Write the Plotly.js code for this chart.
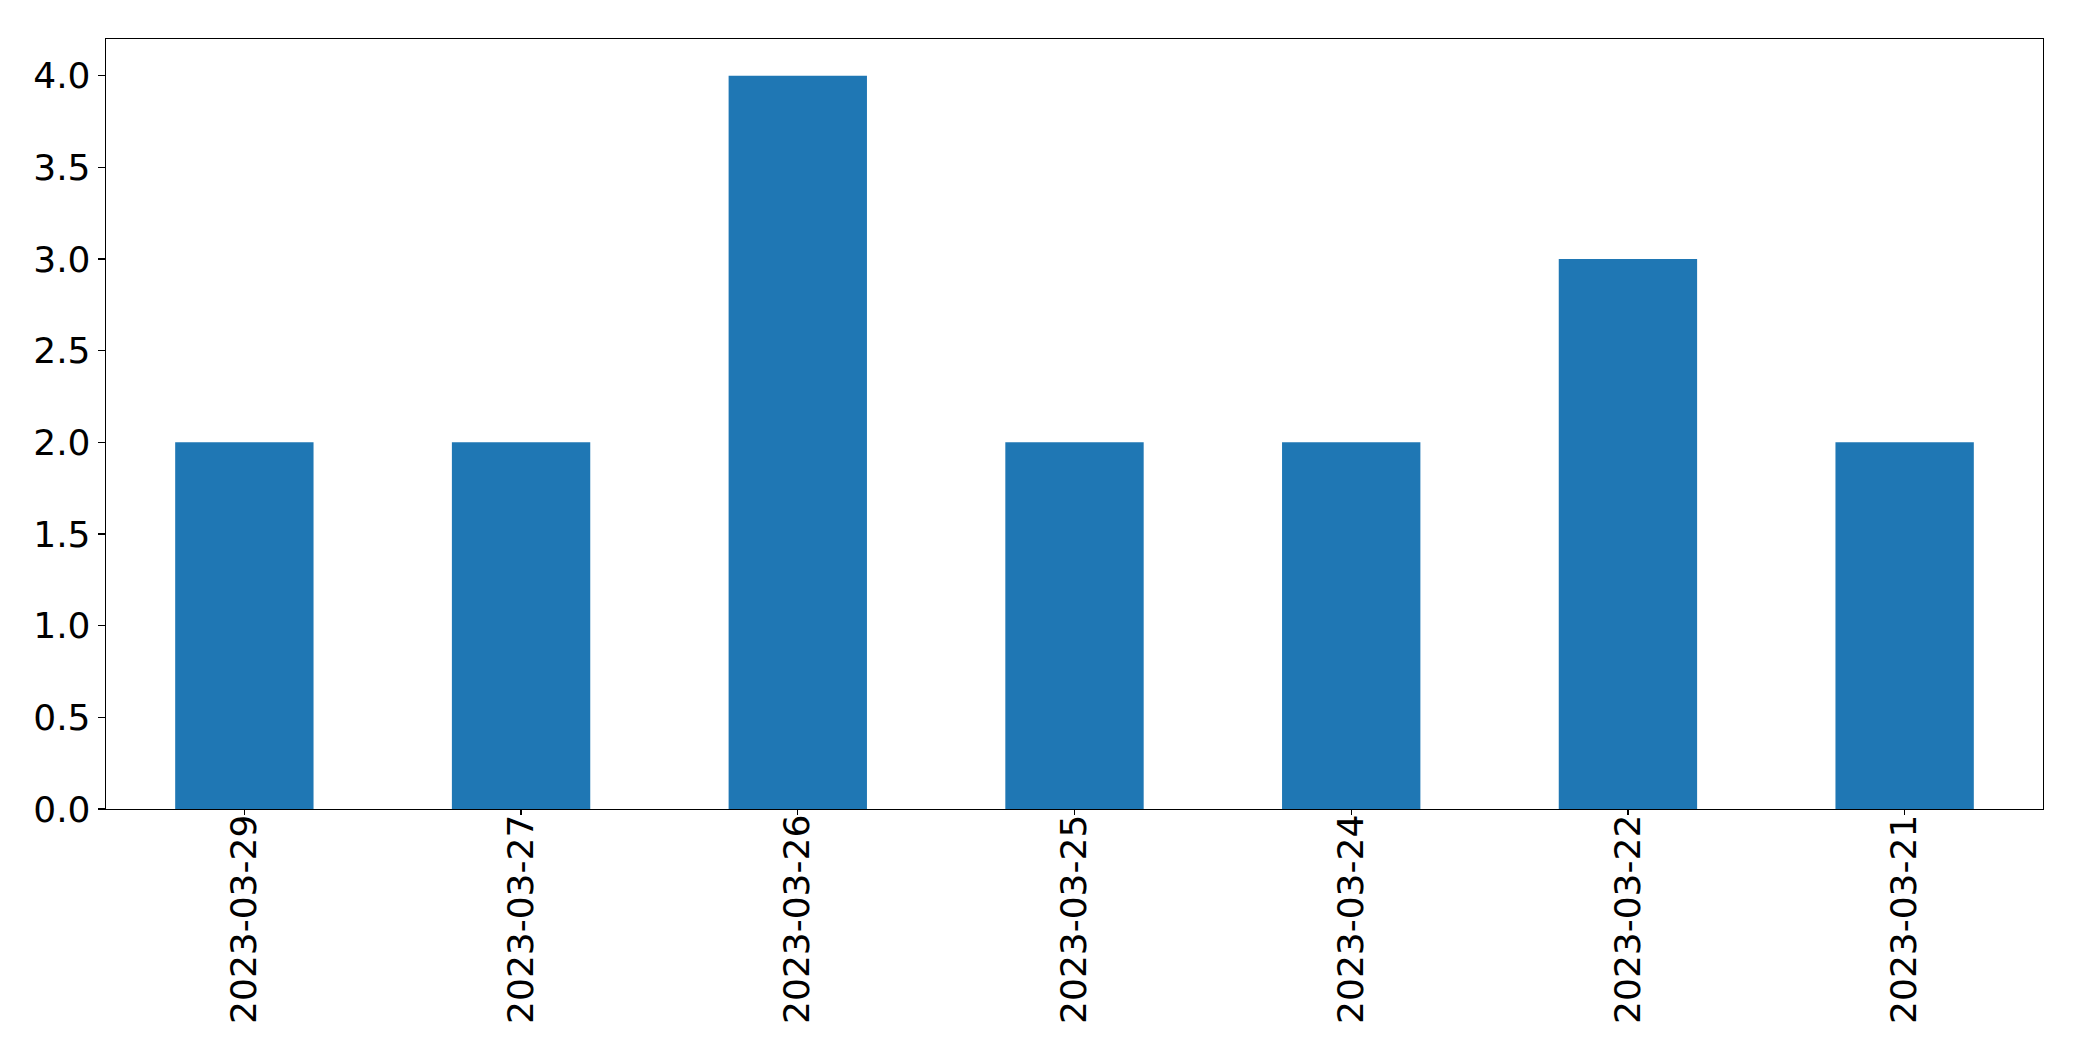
<!DOCTYPE html>
<html>
<head>
<meta charset="utf-8">
<script src="https://cdn.plot.ly/plotly-3.0.1.min.js"></script>
<style>html,body{margin:0;padding:0;background:#fff;}#chart{width:2082px;height:1061px;}</style>
</head>
<body>
<div id="chart"></div>
<script>
const categories = ["2023-03-29", "2023-03-27", "2023-03-26", "2023-03-25", "2023-03-24", "2023-03-22", "2023-03-21"];
const values = [2, 2, 4, 2, 2, 3, 2];
const yTicks = [0, 0.5, 1, 1.5, 2, 2.5, 3, 3.5, 4];

const font = {family: "DejaVu Sans", size: 36, color: "#000"};
Plotly.newPlot("chart", [{
  type: "bar",
  x: categories,
  y: values,
  width: 0.5,
  marker: {color: "#1f77b4", line: {width: 0}},
  hoverinfo: "x+y"
}], {
  width: 2082, height: 1061,
  margin: {l: 105.5, r: 38.7, t: 39.3, b: 251.7, pad: 0},
  paper_bgcolor: "#fff", plot_bgcolor: "#fff",
  showlegend: false,
  font: font,
  xaxis: {
    type: "category",
    range: [-0.5, 6.5],
    tickangle: -90,
    tickfont: font,
    ticks: "outside", ticklen: 5, tickwidth: 1.3, tickcolor: "#000",
    ticklabelstandoff: -15,
    showline: true, linecolor: "#000", linewidth: 1.3, mirror: true,
    showgrid: false, zeroline: false
  },
  yaxis: {
    range: [0, 4.2],
    tickvals: yTicks,
    tickformat: ".1f",
    tickfont: font,
    ticks: "outside", ticklen: 7, tickwidth: 1.3, tickcolor: "#000",
    showline: true, linecolor: "#000", linewidth: 1.3, mirror: true,
    showgrid: false, zeroline: false
  }
}, {displayModeBar: false, staticPlot: true});
</script>
</body>
</html>
